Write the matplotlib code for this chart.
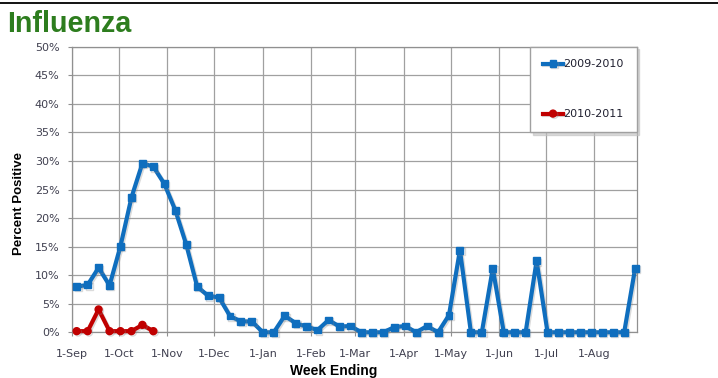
import datetime as dt
import matplotlib
matplotlib.use('Agg')
import matplotlib.pyplot as plt
import matplotlib.dates as mdates
import matplotlib.patheffects as pe
from matplotlib.lines import Line2D
from matplotlib.ticker import MultipleLocator, PercentFormatter

# weekly percent positive, week ending dates
first_week = dt.date(2009, 9, 4)
season_0910 = [8.0, 8.3, 11.3, 8.2, 15.1, 23.6, 29.6, 29.0, 26.0, 21.4,
               15.4, 8.0, 6.4, 6.1, 2.85, 1.9, 1.9, 0.0, 0.0, 2.9,
               1.6, 1.0, 0.4, 2.15, 1.0, 1.1, 0.0, 0.0, 0.0, 0.9,
               1.1, 0.0, 1.1, 0.0, 3.0, 14.4, 0.0, 0.0, 11.2, 0.0,
               0.0, 0.0, 12.5, 0.0, 0.0, 0.0, 0.0, 0.0, 0.0, 0.0,
               0.0, 11.2]
season_1011 = [0.2, 0.2, 4.0, 0.2, 0.2, 0.2, 1.3, 0.2]
weeks = [first_week + dt.timedelta(days=7 * i) for i in range(len(season_0910))]
series_labels = ['2009-2010', '2010-2011']

blue = '#0F6EBE'
red = '#C00000'
tick_color = '#404050'

plt.rcParams['font.family'] = 'DejaVu Sans'

fig = plt.figure(figsize=(7.18, 3.78), dpi=100)
ax = fig.add_axes([72 / 718, 1 - 332.3 / 378, 564.7 / 718, 285.6 / 378])

shadow = [pe.SimpleLineShadow(offset=(1.0, -1.0), shadow_color='#888888', alpha=0.3),
          pe.Normal()]
ax.plot(weeks, season_0910, color=blue, linewidth=3, marker='s', markersize=5,
        label=series_labels[0], path_effects=shadow, zorder=3, clip_on=False)
ax.plot(weeks[:len(season_1011)], season_1011, color=red, linewidth=3, marker='o',
        markersize=5, label=series_labels[1], path_effects=shadow, zorder=3,
        clip_on=False)

ax.set_ylim(0, 50)
ax.set_xlim(dt.date(2009, 9, 1), dt.date(2010, 8, 28))
ax.yaxis.set_major_locator(MultipleLocator(5))
ax.yaxis.set_major_formatter(PercentFormatter(decimals=0))
ax.xaxis.set_major_locator(mdates.MonthLocator())
ax.xaxis.set_major_formatter(
    plt.FuncFormatter(lambda v, p: '1-' + mdates.num2date(v).strftime('%b')))

ax.grid(True, color='#a0a0a0', linewidth=0.9)
ax.set_axisbelow(True)
for s in ax.spines.values():
    s.set_color('#909090')
    s.set_linewidth(0.9)
ax.tick_params(axis='both', colors='#909090', labelcolor=tick_color, labelsize=8,
               length=3)
ax.tick_params(axis='y', pad=6)
ax.tick_params(axis='x', pad=9)

leg = ax.legend(loc='upper right', bbox_to_anchor=(1.0, 1.0), borderaxespad=0,
                fontsize=8, labelspacing=3.6, borderpad=1.15, handlelength=1.8,
                handletextpad=0.05, numpoints=1, fancybox=False, framealpha=1,
                edgecolor='#a0a0a0', shadow={'color': '#c0c0c0', 'alpha': 0.6,
                                              'ox': 2, 'oy': -2})
for t in leg.get_texts():
    t.set_color('#202030')

fig.text(7 / 718, 1 - 31.7 / 378, 'Influenza', family='Liberation Sans',
         fontweight='bold', fontsize=20.7, color='#2D7D1E', va='baseline')
fig.text(19 / 718, 1 - 203 / 378, 'Percent Positive', family='Liberation Sans',
         fontweight='bold', fontsize=9.5, rotation=90, ha='center', va='center')
fig.text(334 / 718, 1 - 364.5 / 378, 'Week Ending', family='Liberation Sans',
         fontweight='bold', fontsize=10, ha='center', va='top')
fig.add_artist(Line2D([0, 1], [1 - 2.7 / 378] * 2, color='black', linewidth=1.3))

fig.savefig('out.png', dpi=100)
